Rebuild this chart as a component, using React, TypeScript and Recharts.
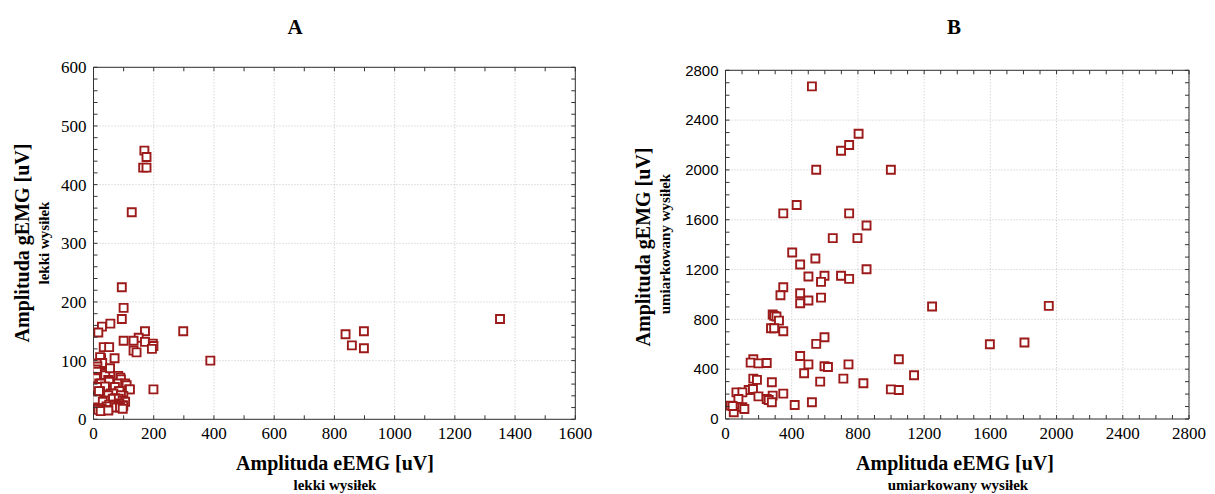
import React from 'react';
import { ScatterChart, Scatter, XAxis, YAxis, ZAxis, CartesianGrid } from 'recharts';

// ---------- Data ----------
const panelTitles = ['A', 'B'];
const xTitle = 'Amplituda eEMG [uV]';
const yTitle = 'Amplituda gEMG [uV]';
const subTitles = ['lekki wysiłek', 'umiarkowany wysiłek'];

const xMajorA = [0, 200, 400, 600, 800, 1000, 1200, 1400, 1600];
const yMajorA = [0, 100, 200, 300, 400, 500, 600];
const xMajorB = [0, 400, 800, 1200, 1600, 2000, 2400, 2800];
const yMajorB = [0, 400, 800, 1200, 1600, 2000, 2400, 2800];

// eEMG (x), gEMG (y) – light effort
const eA = [169, 176, 165, 176, 127, 94, 100, 94, 56, 28, 16, 171, 298, 150, 100, 133, 171, 197, 199, 194, 133, 143, 34, 52, 70, 388, 199, 837, 858, 898, 898, 1350,
  25, 22, 29, 11, 13, 8, 37, 11, 38, 39, 12, 8, 82, 89, 91, 49, 52, 19, 25, 82, 105, 110, 38, 12, 71, 55, 118, 121, 22, 18, 84, 86, 58, 66, 49, 99, 91, 8, 9, 71, 64, 84, 38, 97, 31, 105, 86, 52, 73, 97, 99, 66, 43, 84, 75, 88, 27, 18, 97, 16, 49, 24, 49];
const gA = [458, 447, 429, 429, 353, 225, 190, 171, 163, 158, 148, 150, 150, 139, 134, 134, 132, 129, 125, 120, 117, 114, 123, 123, 104, 100, 51, 145, 126, 150, 121, 171,
  104, 106, 96, 95, 90, 85, 79, 81, 78, 75, 72, 70, 74, 71, 68, 67, 64, 61, 61, 61, 61, 58, 56, 55, 55, 87, 51, 51, 48, 48, 48, 48, 44, 44, 41, 40, 41, 34, 34, 36, 35, 35, 32, 32, 30, 30, 27, 25, 25, 24, 23, 23, 22, 21, 20, 20, 19, 18, 18, 16, 16, 14, 15];

// eEMG (x), gEMG (y) – moderate effort
const eB = [522, 804, 747, 698, 548, 999, 430, 349, 747, 852, 648, 797, 403, 543, 451, 852, 501, 598, 698, 747, 577, 349, 332, 451, 451, 501, 577, 1248, 1953, 285, 294, 308, 323, 275, 294, 349, 598, 548, 1597, 1806, 451, 1047, 168, 152, 199, 249, 501, 598, 619, 743, 475, 1139, 168, 190, 712, 572, 280, 833, 999, 1047, 140, 166, 66, 102, 349, 199, 285, 249, 261, 280, 418, 522, 78, 31, 102, 114, 50, 43];
const gB = [2671, 2291, 2200, 2154, 2002, 2002, 1718, 1651, 1651, 1554, 1452, 1452, 1337, 1289, 1241, 1203, 1144, 1150, 1150, 1125, 1101, 1058, 994, 1010, 930, 951, 975, 903, 908, 839, 828, 823, 790, 729, 729, 705, 656, 603, 600, 614, 506, 480, 480, 453, 447, 450, 439, 423, 418, 439, 367, 351, 324, 314, 324, 300, 295, 287, 238, 233, 233, 241, 214, 214, 204, 182, 188, 161, 153, 134, 113, 134, 161, 107, 94, 80, 54, 104];

const dataA = eA.map((x, i) => ({ x, y: gA[i] }));
const dataB = eB.map((x, i) => ({ x, y: gB[i] }));

const range = (max: number, step: number) => {
  const out: number[] = [];
  for (let v = 0; v <= max; v += step) out.push(v);
  return out;
};

// ---------- Styles ----------
const SERIF = '"Liberation Serif", "Times New Roman", serif';
const SANS = '"Liberation Sans", Arial, sans-serif';
const MARK = '#9c1a1a';
const FRAME = '#333333';

type Side = 'bottom' | 'left' | 'top' | 'right';

function makeTick(side: Side, majors: number[], font: string, size: number) {
  return (props: any) => {
    const { x, y, payload } = props;
    const v = payload ? payload.value : 0;
    const L = 4;
    let line: any = null;
    if (side === 'bottom') line = <line x1={x} y1={y} x2={x} y2={y - L} stroke={FRAME} strokeWidth={1} />;
    if (side === 'top') line = <line x1={x} y1={y} x2={x} y2={y + L} stroke={FRAME} strokeWidth={1} />;
    if (side === 'left') line = <line x1={x} y1={y} x2={x + L} y2={y} stroke={FRAME} strokeWidth={1} />;
    if (side === 'right') line = <line x1={x} y1={y} x2={x - L} y2={y} stroke={FRAME} strokeWidth={1} />;
    const ts = { fontFamily: font, fontSize: size, fill: '#000' };
    let label: any = null;
    if (majors.includes(v)) {
      if (side === 'bottom')
        label = (
          <text x={x} y={y + 20} textAnchor="middle" style={ts}>
            {v}
          </text>
        );
      if (side === 'left')
        label = (
          <text x={x - 7} y={y} dy="0.35em" textAnchor="end" style={ts}>
            {v}
          </text>
        );
    }
    return (
      <g>
        {line}
        {label}
      </g>
    );
  };
}

const Txt = ({ x, y, size, rotate, children }: any) => (
  <div
    style={{
      position: 'absolute',
      left: x,
      top: y,
      transform: `translate(-50%, -50%)${rotate ? ' rotate(-90deg)' : ''}`,
      fontFamily: SERIF,
      fontWeight: 'bold',
      fontSize: size,
      lineHeight: 1,
      whiteSpace: 'nowrap',
      color: '#000',
    }}
  >
    {children}
  </div>
);

function Panel({ data, xMax, yMax, xMajor, yMajor, xMinorStep, yMinorStep, width, height, margin, yFont, ySize }: any) {
  const xTicks = range(xMax, xMinorStep);
  const yTicks = range(yMax, yMinorStep);
  return (
    <ScatterChart width={width} height={height} margin={margin}>
      <CartesianGrid
        verticalValues={xMajor}
        horizontalValues={yMajor}
        stroke="#c4c4c4"
        strokeDasharray="1 2"
      />
      <XAxis
        xAxisId={0}
        type="number"
        dataKey="x"
        domain={[0, xMax]}
        allowDataOverflow
        ticks={xTicks}
        interval={0}
        tickSize={0}
        tickMargin={0}
        tickLine={false}
        height={30}
        axisLine={{ stroke: FRAME, strokeWidth: 1 }}
        tick={makeTick('bottom', xMajor, SERIF, 17)}
      />
      <XAxis
        xAxisId="top"
        orientation="top"
        mirror
        type="number"
        dataKey="x"
        domain={[0, xMax]}
        allowDataOverflow
        ticks={xTicks}
        interval={0}
        tickSize={0}
        tickMargin={0}
        tickLine={false}
        axisLine={{ stroke: FRAME, strokeWidth: 1 }}
        tick={makeTick('top', [], SERIF, 17)}
      />
      <YAxis
        yAxisId={0}
        type="number"
        dataKey="y"
        domain={[0, yMax]}
        allowDataOverflow
        ticks={yTicks}
        interval={0}
        tickSize={0}
        tickMargin={0}
        tickLine={false}
        width={40}
        axisLine={{ stroke: FRAME, strokeWidth: 1 }}
        tick={makeTick('left', yMajor, yFont, ySize)}
      />
      <YAxis
        yAxisId="right"
        orientation="right"
        mirror
        type="number"
        dataKey="y"
        domain={[0, yMax]}
        allowDataOverflow
        ticks={yTicks}
        interval={0}
        tickSize={0}
        tickMargin={0}
        tickLine={false}
        axisLine={{ stroke: FRAME, strokeWidth: 1 }}
        tick={makeTick('right', [], yFont, ySize)}
      />
      <ZAxis range={[66, 66]} />
      <Scatter
        data={data}
        shape="square"
        fill="#ffffff"
        stroke={MARK}
        strokeWidth={1.9}
        isAnimationActive={false}
      />
    </ScatterChart>
  );
}

export default function App() {
  return (
    <div style={{ position: 'absolute', left: 0, top: 0, width: 1215, height: 494, background: '#fff', overflow: 'hidden' }}>
      <div style={{ position: 'absolute', left: 0, top: 0 }}>
        <Panel
          data={dataA}
          xMax={1600}
          yMax={600}
          xMajor={xMajorA}
          yMajor={yMajorA}
          xMinorStep={100}
          yMinorStep={20}
          width={600}
          height={494}
          margin={{ top: 67.3, right: 24.7, left: 53.5, bottom: 44.7 }}
          yFont={SERIF}
          ySize={17}
        />
      </div>
      <div style={{ position: 'absolute', left: 600, top: 0 }}>
        <Panel
          data={dataB}
          xMax={2800}
          yMax={2800}
          xMajor={xMajorB}
          yMajor={yMajorB}
          xMinorStep={100}
          yMinorStep={100}
          width={615}
          height={494}
          margin={{ top: 70.3, right: 26, left: 85.5, bottom: 45 }}
          yFont={SANS}
          ySize={15}
        />
      </div>

      <Txt x={295} y={27} size={21}>{panelTitles[0]}</Txt>
      <Txt x={954} y={27} size={21}>{panelTitles[1]}</Txt>

      <Txt x={335} y={463} size={20}>{xTitle}</Txt>
      <Txt x={335} y={485} size={15}>{subTitles[0]}</Txt>
      <Txt x={22} y={243} size={20} rotate>{yTitle}</Txt>
      <Txt x={44} y={243} size={15} rotate>{subTitles[0]}</Txt>

      <Txt x={955} y={463} size={20}>{xTitle}</Txt>
      <Txt x={958} y={485} size={15}>{subTitles[1]}</Txt>
      <Txt x={643} y={247} size={20} rotate>{yTitle}</Txt>
      <Txt x={665} y={244} size={15} rotate>{subTitles[1]}</Txt>
    </div>
  );
}
